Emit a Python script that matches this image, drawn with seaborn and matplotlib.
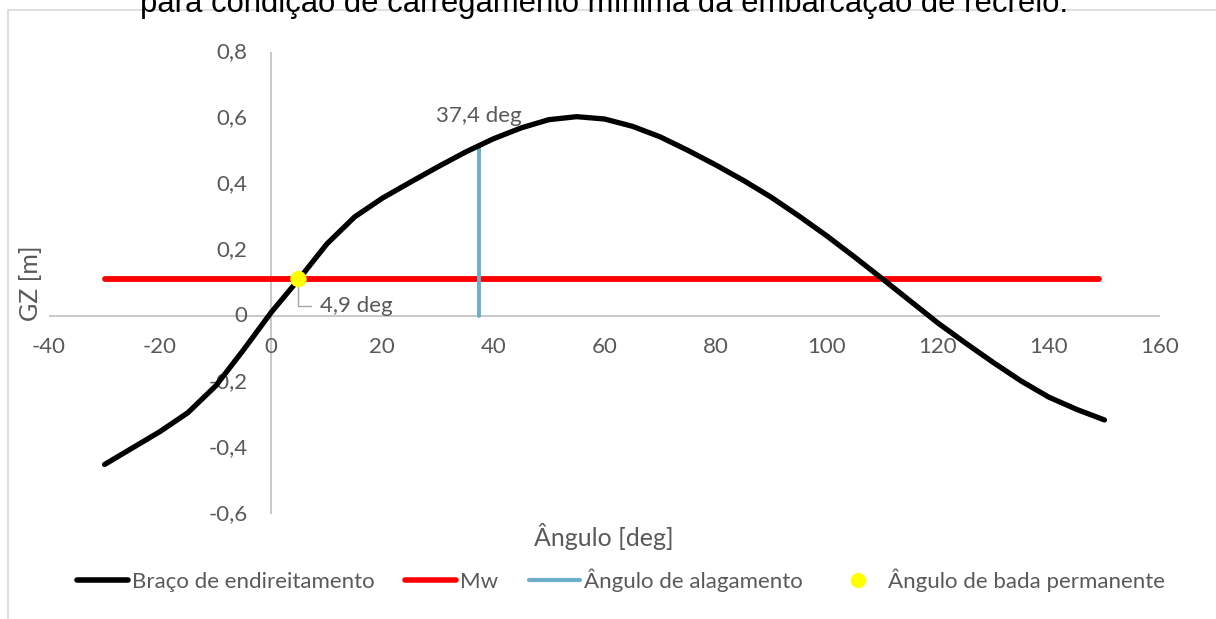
import numpy as np
import pandas as pd
import matplotlib
matplotlib.use('Agg')
import matplotlib.pyplot as plt
import seaborn as sns
from matplotlib.lines import Line2D
from matplotlib.patches import Rectangle

# --- Data ---
angulo = [-30, -25, -20, -15, -10, -5, 0, 5, 10, 15, 20, 25, 30, 35, 40, 45,
          50, 55, 60, 65, 70, 75, 80, 85, 90, 95, 100, 105, 110, 115, 120,
          125, 130, 135, 140, 145, 150]
gz = [-0.45, -0.40, -0.35, -0.293, -0.212, -0.103, 0.011, 0.112, 0.218, 0.30,
      0.357, 0.405, 0.452, 0.497, 0.537, 0.57, 0.595, 0.604, 0.597, 0.575,
      0.543, 0.502, 0.458, 0.411, 0.36, 0.303, 0.243, 0.179, 0.113, 0.046,
      -0.021, -0.082, -0.141, -0.197, -0.246, -0.283, -0.315]

mw_x = [-30, 149]
mw_y = [0.112, 0.112]

alag_x = [37.4, 37.4]
alag_y = [0.0, 0.518]

perm_x = [4.9]
perm_y = [0.112]

x_ticks = [-40, -20, 0, 20, 40, 60, 80, 100, 120, 140, 160]
y_ticks = [-0.6, -0.4, -0.2, 0, 0.2, 0.4, 0.6, 0.8]

titulo = "para condição de carregamento mínima da embarcação de recreio."

# --- Estilo ---
sns.set_theme(style='white')
plt.rcParams['font.family'] = ['Lato', 'DejaVu Sans']
cinza = '#595959'
cinza_eixo = '#BFBFBF'
azul = '#6CAFCA'

fig = plt.figure(figsize=(12.16, 6.19), dpi=100)
ax = fig.add_axes([49 / 1216, 1 - 514 / 619, (1160 - 49) / 1216, (514 - 52) / 619])

# moldura do grafico (cortada na imagem original)
fig.patches.append(Rectangle((8 / 1216, -0.1), 1.2, 1 - 10 / 619 + 0.1,
                             transform=fig.transFigure, fill=False,
                             edgecolor='#D9D9D9', lw=1.2))

fig.text(0.497, 1 - 12 / 619, titulo, ha='center', va='baseline',
         fontsize=22.3, color='black', family='Liberation Sans')

ax.set_xlim(-40, 160)
ax.set_ylim(-0.6, 0.8)
for s in ax.spines.values():
    s.set_visible(False)
ax.set_xticks([])
ax.set_yticks([])

# eixos cruzando no zero
ax.axhline(0, color=cinza_eixo, lw=1.2, zorder=1)
ax.axvline(0, color=cinza_eixo, lw=1.2, zorder=1)

for t in x_ticks:
    ax.annotate(f"{t}", xy=(t, 0), xytext=(0, -22), textcoords='offset points',
                ha='center', va='center', fontsize=16, color=cinza,
                annotation_clip=False)
for t in y_ticks:
    lab = "0" if t == 0 else f"{t:.1f}".replace('.', ',')
    ax.annotate(lab, xy=(0, t), xytext=(-17, 0), textcoords='offset points',
                ha='right', va='center', fontsize=16, color=cinza,
                annotation_clip=False)

df = pd.DataFrame({'angulo': angulo, 'gz': gz})
sns.lineplot(data=df, x='angulo', y='gz', ax=ax, color='black', lw=3.8,
             solid_capstyle='round', solid_joinstyle='round', zorder=3)
ax.plot(mw_x, mw_y, color='#FF0000', lw=4.2, solid_capstyle='round', zorder=2)
ax.plot(alag_x, alag_y, color=azul, lw=2.8, zorder=2)
sns.scatterplot(x=perm_x, y=perm_y, ax=ax, color='#FFFF00', s=140,
                edgecolor='none', zorder=4)

ax.annotate("37,4 deg", xy=(alag_x[1], alag_y[1]), xytext=(0, 21),
            textcoords='offset points', ha='center', va='center',
            fontsize=16, color=cinza)
ax.annotate("4,9 deg", xy=(perm_x[0], perm_y[0]), xytext=(8.8, 0.03),
            textcoords='data', ha='left', va='center', fontsize=16, color=cinza,
            arrowprops=dict(arrowstyle='-', color='#A6A6A6', lw=1,
                            connectionstyle='angle,angleA=0,angleB=90',
                            shrinkA=4, shrinkB=5))

ax.set_xlabel('')
ax.set_ylabel('')
fig.text(604 / 1216, 1 - 537 / 619, 'Ângulo [deg]', ha='center', va='center',
         fontsize=18, color=cinza)
fig.text(31 / 1216, 1 - 283 / 619, 'GZ [m]', ha='center', va='center',
         rotation=90, fontsize=18, color=cinza)

handles = [
    Line2D([], [], color='black', lw=4),
    Line2D([], [], color='#FF0000', lw=4),
    Line2D([], [], color=azul, lw=3),
    Line2D([], [], color='#FFFF00', marker='o', ls='none', markersize=10),
]
labels = ['Braço de endireitamento', 'Mw', 'Ângulo de alagamento',
          'Ângulo de bada permanente']
fig.legend(handles, labels, loc='center', bbox_to_anchor=(621 / 1216, 1 - 580 / 619),
           ncol=4, frameon=False, fontsize=16, labelcolor=cinza,
           handlelength=2.3, handletextpad=0.2, columnspacing=1.35)

fig.savefig('out.png', dpi=100)
